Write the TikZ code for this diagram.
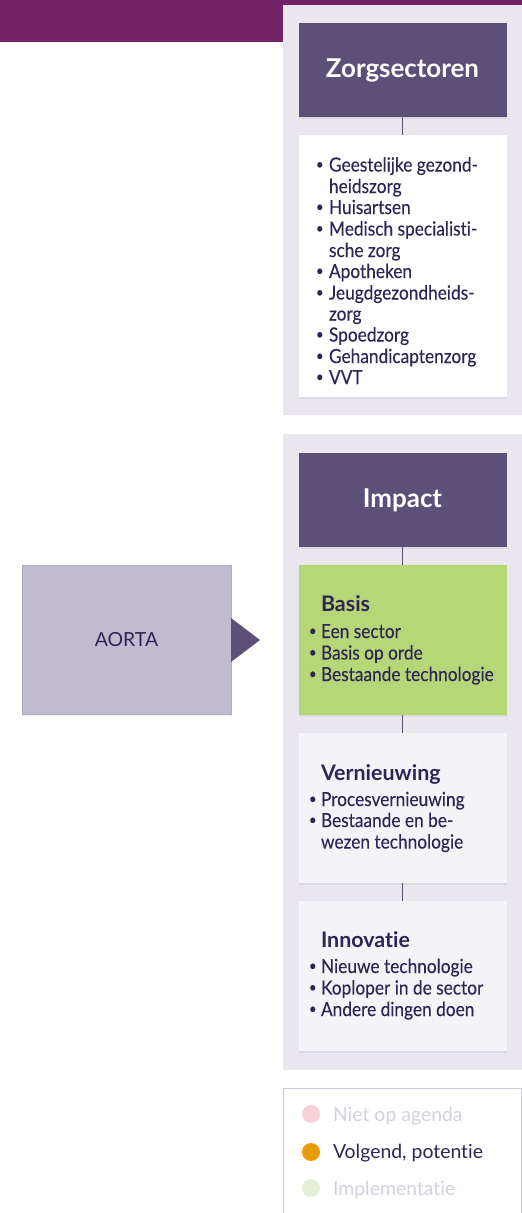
\documentclass[tikz,border=0pt]{standalone}
\usepackage{fontspec}
\setmainfont{Lato}[RawFeature=-liga]
\newfontfamily\bodyfont{Lato}[FakeStretch=0.89, RawFeature=-liga, FakeBold=0.1]
\usetikzlibrary{shadows}
\definecolor{barpurple}{HTML}{742268}
\definecolor{panelgray}{HTML}{E9E6EE}
\definecolor{darkbox}{HTML}{5C5079}
\definecolor{greenbox}{HTML}{B5D777}
\definecolor{lightbox}{HTML}{F4F3F7}
\definecolor{aortabox}{HTML}{C0BBCF}
\definecolor{aortaline}{HTML}{B3AEC4}
\definecolor{ink}{HTML}{2E2456}
\definecolor{faded}{HTML}{D3D0DE}
\definecolor{legline}{HTML}{CCC8DA}
\definecolor{dotpink}{HTML}{F7D0D8}
\definecolor{dotorange}{HTML}{E89C0A}
\definecolor{dotgreen}{HTML}{E4EFD4}
\newcommand\bul[1]{\makebox[#1][l]{\raisebox{0.12em}{\scalebox{0.75}{•}}}}
\begin{document}
\begin{tikzpicture}[x=1bp,y=-1bp,
  card/.style={inner sep=0pt, outer sep=0pt, minimum width=208bp,
    drop shadow={opacity=0.12, shadow xshift=0.6bp, shadow yshift=-1.6bp}},
  headbox/.style={card, fill=darkbox, minimum height=94bp, text=white,
    font=\fontsize{26}{28}\selectfont\bfseries},
  conn/.style={draw=darkbox, line width=1.3bp},
  txt/.style={anchor=base west, inner sep=0pt, outer sep=0pt, text=ink,
    font=\bodyfont\fontsize{19.5}{21}\selectfont},
  ttl/.style={anchor=base west, inner sep=0pt, outer sep=0pt, text=ink,
    font=\fontsize{21.5}{24}\selectfont\bfseries},
  leg/.style={anchor=base west, inner sep=0pt, outer sep=0pt,
    font=\fontsize{19.5}{22}\selectfont}]
\useasboundingbox (0,0) rectangle (522,1213);
% top bar and panels
\fill[barpurple] (0,0) rectangle (522,42);
\fill[panelgray] (283,5) rectangle (522,415);
\fill[panelgray] (283,434) rectangle (522,1070);
% Zorgsectoren
\node[headbox] (zorg) at (402.5,70) {Zorgsectoren};
\node[card, fill=white, minimum height=262bp] (list) at (402.5,266) {};
\draw[conn] (zorg.south) -- (list.north);
\node[txt] (z1) at (316,171.5) {\bul{13bp}Geestelijke gezond-};
\node[txt] (z2) at (329,193) {heidszorg};
\node[txt] (z3) at (316,214) {\bul{13bp}Huisartsen};
\node[txt] (z4) at (316,235.5) {\bul{13bp}Medisch specialisti-};
\node[txt] (z5) at (329,257) {sche zorg};
\node[txt] (z6) at (316,278) {\bul{13bp}Apotheken};
\node[txt] (z7) at (316,299.5) {\bul{13bp}Jeugdgezondheids-};
\node[txt] (z8) at (329,320.5) {zorg};
\node[txt] (z9) at (316,341.5) {\bul{13bp}Spoedzorg};
\node[txt] (z10) at (316,363) {\bul{13bp}Gehandicaptenzorg};
\node[txt] (z11) at (316,384) {\bul{13bp}VVT};
% Impact
\node[headbox] (impact) at (402.5,500) {Impact};
\node[card, fill=greenbox, minimum height=150bp] (basis) at (402.5,640) {};
\node[card, fill=lightbox, minimum height=150bp] (vern) at (402.5,808) {};
\node[card, fill=lightbox, minimum height=150bp] (innov) at (402.5,976) {};
\draw[conn] (impact.south) -- (basis.north);
\draw[conn] (basis.south) -- (vern.north);
\draw[conn] (vern.south) -- (innov.north);
\node[ttl] (bt) at (321,611) {Basis};
\node[txt] (b1) at (309,638) {\bul{12bp}Een sector};
\node[txt] (b2) at (309,659.5) {\bul{12bp}Basis op orde};
\node[txt] (b3) at (309,681) {\bul{12bp}Bestaande technologie};
\node[ttl] (vt) at (321,780) {Vernieuwing};
\node[txt] (v1) at (309,806) {\bul{12bp}Procesvernieuwing};
\node[txt] (v2) at (309,827) {\bul{12bp}Bestaande en be-};
\node[txt] (v3) at (321,848.5) {wezen technologie};
\node[ttl] (it) at (321,947) {Innovatie};
\node[txt] (i1) at (309,973) {\bul{12bp}Nieuwe technologie};
\node[txt] (i2) at (309,994.5) {\bul{12bp}Koploper in de sector};
\node[txt] (i3) at (309,1016) {\bul{12bp}Andere dingen doen};
% AORTA
\node[card, fill=aortabox, draw=aortaline, line width=0.8bp, minimum width=209bp,
  minimum height=149bp, text=ink, font=\fontsize{19.5}{22}\selectfont] (aorta) at (126.5,640) {AORTA};
\fill[darkbox] (aorta.east) ++(0,-22) -- ++(29,22) -- ++(-29,22) -- cycle;
% legend
\draw[legline, line width=1bp] (283.5,1240) -- (283.5,1088.5) -- (521.5,1088.5) -- (521.5,1240);
\fill[dotpink] (311,1114) circle (9);
\fill[dotorange] (311,1152) circle (9);
\fill[dotgreen] (311,1188) circle (9);
\node[leg, text=faded] (l1) at (333,1121) {Niet op agenda};
\node[leg, text=ink] (l2) at (333,1158.5) {Volgend, potentie};
\node[leg, text=faded] (l3) at (333,1195) {Implementatie};
\end{tikzpicture}
\end{document}
